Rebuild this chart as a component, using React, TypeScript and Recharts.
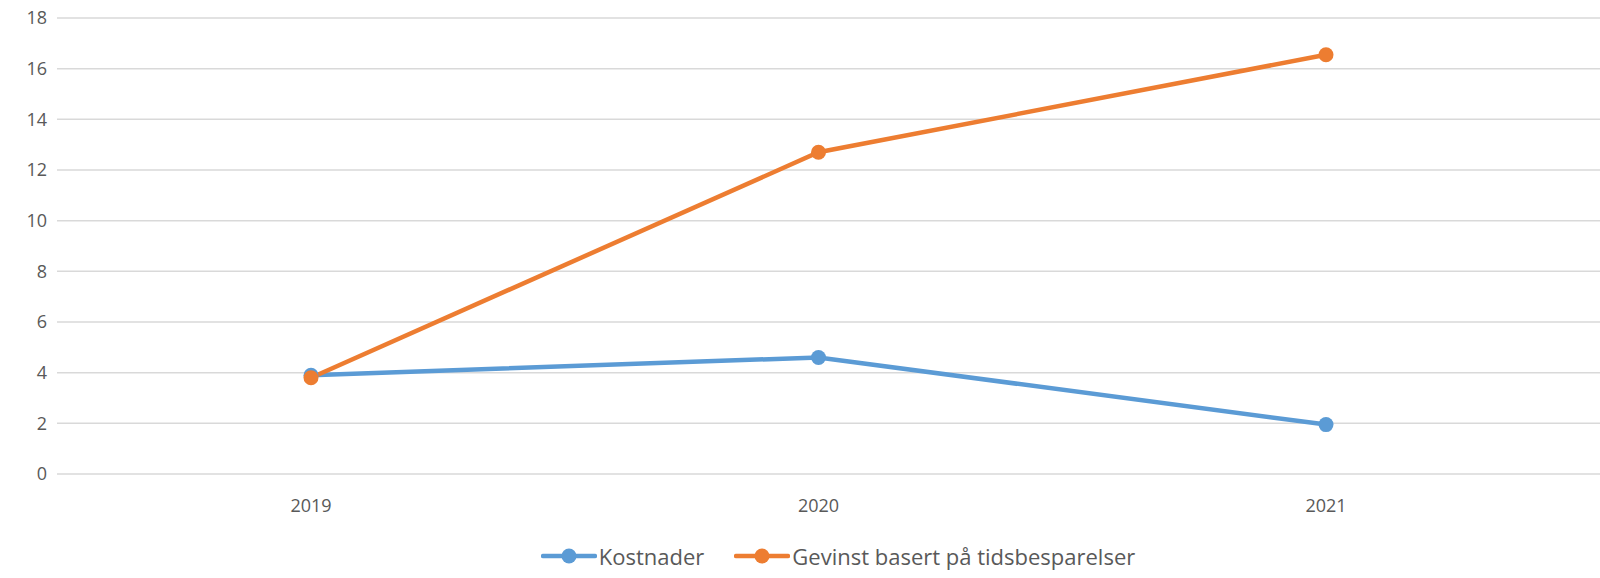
import { LineChart, Line, XAxis, YAxis, CartesianGrid } from "recharts";

const years = ["2019", "2020", "2021"];
const kostnader = [3.9, 4.6, 1.95];
const gevinst = [3.8, 12.7, 16.55];
const yTicks = [0, 2, 4, 6, 8, 10, 12, 14, 16, 18];

const BLUE = "#5B9BD5";
const ORANGE = "#ED7D31";
const TEXT = "#595959";
const FONT = "'Open Sans', Lato, sans-serif";

const data = years.map((year, i) => ({ year, kostnader: kostnader[i], gevinst: gevinst[i] }));

const series = [
  { key: "kostnader", name: "Kostnader", color: BLUE },
  { key: "gevinst", name: "Gevinst basert på tidsbesparelser", color: ORANGE },
];

function ChartLegend() {
  return (
    <div
      style={{
        position: "absolute",
        left: 38,
        top: 542,
        width: 1600,
        display: "flex",
        justifyContent: "center",
        gap: 30,
        fontFamily: FONT,
        fontSize: 22,
        color: TEXT,
        lineHeight: "28px",
      }}
    >
      {series.map((s) => (
        <div key={s.key} style={{ display: "flex", alignItems: "center" }}>
          <svg width={56} height={18} style={{ marginRight: 2 }}>
            <line x1={2} y1={9} x2={54} y2={9} stroke={s.color} strokeWidth={4.5} strokeLinecap="round" />
            <circle cx={28} cy={9} r={7.5} fill={s.color} />
          </svg>
          <span>{s.name}</span>
        </div>
      ))}
    </div>
  );
}

export default function App() {
  return (
    <div style={{ position: "relative", width: 1600, height: 578, background: "#fff", overflow: "hidden" }}>
      <style>{`html, body { margin: 0; padding: 0; overflow: hidden; }`}</style>
      <LineChart width={1600} height={578} data={data} margin={{ top: 18, right: 0, bottom: 74, left: 0 }}>
        <CartesianGrid vertical={false} stroke="#d9d9d9" strokeWidth={1.5} />
        <XAxis
          dataKey="year"
          height={30}
          axisLine={false}
          tickLine={false}
          padding={{ left: 254, right: 274 }}
          tick={{ fill: TEXT, fontSize: 18, fontFamily: FONT }}
          tickMargin={19}
        />
        <YAxis
          type="number"
          domain={[0, 18]}
          ticks={yTicks}
          interval={0}
          width={57}
          axisLine={false}
          tickLine={false}
          tickMargin={4}
          tick={{ fill: TEXT, fontSize: 18, fontFamily: FONT }}
        />
        {series.map((s) => (
          <Line
            key={s.key}
            dataKey={s.key}
            name={s.name}
            stroke={s.color}
            strokeWidth={4.5}
            dot={{ r: 7.5, fill: s.color, stroke: s.color, strokeWidth: 0 }}
            activeDot={false}
            isAnimationActive={false}
          />
        ))}
      </LineChart>
      <ChartLegend />
    </div>
  );
}
